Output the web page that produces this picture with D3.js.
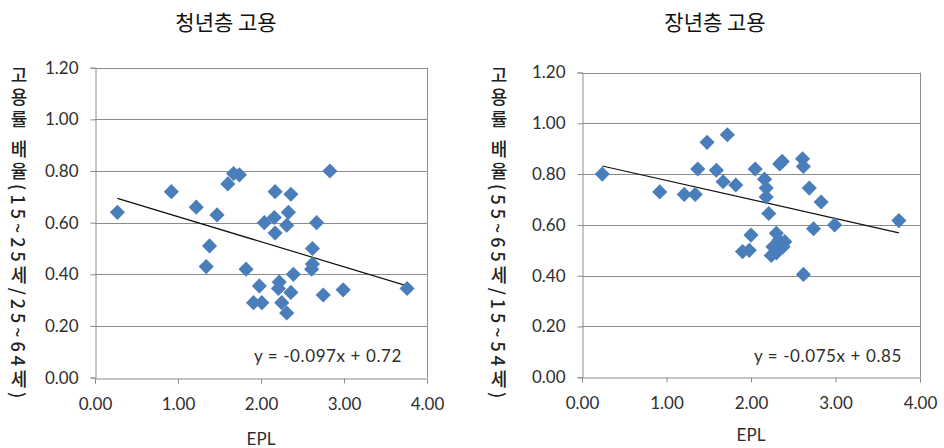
<!DOCTYPE html>
<html><head><meta charset="utf-8">
<script src="https://cdn.jsdelivr.net/npm/d3@7"></script>
<style>body{margin:0;background:#fff;} svg{display:block}</style>
</head><body>
<svg id="c" width="944" height="448"></svg>
<script>
// ---- data ----
const xTicks = [0, 1, 2, 3, 4];
const yTicks = [0, 0.2, 0.4, 0.6, 0.8, 1.0, 1.2];
const titles = ["청년층 고용", "장년층 고용"];
const yLabels = ["고용률 배율(15~25세/25~64세)", "고용률 배율(55~65세/15~54세)"];
const xLabel = "EPL";
const youthEPL =   [0.27,0.92,1.22,1.47,1.38,1.34,1.60,1.67,1.74,1.82,1.91,2.01,1.98,2.04,2.16,2.17,2.17,2.36,2.33,2.31,2.22,2.21,2.36,2.25,2.31,2.39,2.62,2.62,2.61,2.67,2.83,2.75,2.99,3.76];
const youthRatio = [0.64,0.72,0.66,0.63,0.51,0.43,0.75,0.79,0.785,0.42,0.29,0.29,0.355,0.60,0.62,0.72,0.56,0.71,0.64,0.59,0.37,0.345,0.33,0.29,0.25,0.40,0.50,0.44,0.42,0.60,0.80,0.32,0.34,0.345];
const olderEPL =   [0.24,0.92,1.21,1.34,1.37,1.48,1.72,1.59,1.67,1.82,2.05,2.00,1.90,1.98,2.16,2.18,2.18,2.21,2.34,2.37,2.61,2.62,2.69,2.83,2.74,2.99,3.75,2.30,2.33,2.40,2.26,2.38,2.24,2.30,2.62];
const olderRatio = [0.80,0.73,0.72,0.72,0.82,0.925,0.955,0.815,0.77,0.757,0.82,0.56,0.495,0.50,0.78,0.745,0.71,0.645,0.84,0.85,0.86,0.83,0.745,0.69,0.585,0.60,0.617,0.567,0.54,0.534,0.514,0.514,0.48,0.49,0.405];
const trendSlope = [-0.097, -0.075];
const trendIntercept = [0.72, 0.85];
const eqLabels = ["y = -0.097x + 0.72", "y = -0.075x + 0.85"];

// ---- layout ----
const panels = [
  {x: youthEPL, y: youthRatio, xr: [95, 427], yr: [377.6, 67.7], titleX: 226, labelX: 19, eqX: 402, eplY: 445},
  {x: olderEPL, y: olderRatio, xr: [582, 920], yr: [377.3, 72.5], titleX: 715, labelX: 499, eqX: 902, eplY: 441}
];
const svg = d3.select("#c");
const gridC = "#8c8c8c", textC = "#2e2e2e", markC = "#4a7ebb";
const tickFont = "Lato, 'Open Sans', sans-serif";

panels.forEach((p, i) => {
  const x = d3.scaleLinear().domain([0, 4]).range(p.xr);
  const y = d3.scaleLinear().domain([0, 1.2]).range(p.yr);
  const g = svg.append("g");

  g.selectAll(".grid").data(yTicks.slice(1)).join("line")
    .attr("x1", x(0)).attr("x2", x(4))
    .attr("y1", d => Math.round(y(d)) + 0.5).attr("y2", d => Math.round(y(d)) + 0.5)
    .attr("stroke", gridC).attr("stroke-width", 1);
  g.append("line").attr("x1", Math.round(x(4)) + 0.5).attr("x2", Math.round(x(4)) + 0.5)
    .attr("y1", y(1.2)).attr("y2", y(0)).attr("stroke", gridC);

  const yAxis = d3.axisLeft(y).tickValues(yTicks).tickFormat(d3.format(".2f")).tickSize(5).tickPadding(12);
  const gy = g.append("g").attr("transform", `translate(${Math.round(x(0)) + 0.5},0)`).call(yAxis);
  const xAxis = d3.axisBottom(x).tickValues(xTicks).tickFormat(d3.format(".2f")).tickSize(5).tickPadding(14);
  const gx = g.append("g").attr("transform", `translate(0,${Math.round(y(0)) + 0.5})`).call(xAxis);
  [gx, gy].forEach(a => {
    a.select(".domain").attr("stroke", gridC);
    a.selectAll(".tick line").attr("stroke", gridC);
    a.selectAll(".tick text").attr("fill", textC).style("font-family", tickFont).style("font-size", "17px");
  });

  const x0 = d3.min(p.x), x1 = d3.max(p.x);
  g.append("line")
    .attr("x1", x(x0)).attr("y1", y(trendIntercept[i] + trendSlope[i] * x0))
    .attr("x2", x(x1)).attr("y2", y(trendIntercept[i] + trendSlope[i] * x1))
    .attr("stroke", "#111").attr("stroke-width", 1.2);

  const sym = d3.symbol().type(d3.symbolSquare).size(115);
  g.selectAll(".pt").data(p.x.map((v, k) => [v, p.y[k]])).join("path")
    .attr("d", sym)
    .attr("transform", d => `translate(${x(d[0])},${y(d[1])}) rotate(45)`)
    .attr("fill", markC);

  g.append("text").attr("x", p.eqX).attr("y", 362).attr("text-anchor", "end")
    .attr("fill", textC).style("font-family", tickFont).style("font-size", "17px")
    .style("letter-spacing", "0.6px")
    .text(eqLabels[i]);

  g.append("text").attr("x", (x(0) + x(4)) / 2).attr("y", p.eplY).attr("text-anchor", "middle")
    .attr("fill", textC).style("font-family", tickFont).style("font-size", "17px")
    .text(xLabel);

  svg.append("text").attr("x", p.titleX).attr("y", 30).attr("text-anchor", "middle")
    .attr("fill", "#111").style("font-family", "'Noto Sans CJK KR', sans-serif").style("font-weight", 400)
    .style("font-size", "21px").text(titles[i]);

  svg.append("text").attr("x", p.labelX).attr("y", 66)
    .style("writing-mode", "vertical-rl").style("text-orientation", "mixed")
    .style("letter-spacing", "4px")
    .attr("fill", "#222").style("font-family", "'Noto Sans CJK KR', sans-serif").style("font-weight", 500)
    .style("font-size", "18px").text(yLabels[i]);
});
</script>
</body></html>
